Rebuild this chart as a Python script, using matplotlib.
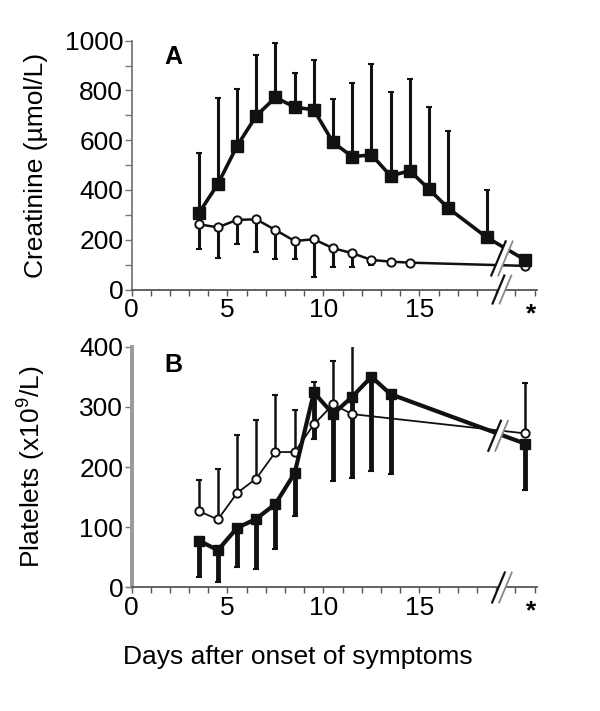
import matplotlib
matplotlib.use('Agg')
import matplotlib.pyplot as plt
from matplotlib.patches import Polygon
import numpy as np

plt.rcParams['font.family'] = ['Liberation Sans', 'DejaVu Sans']
plt.rcParams['mathtext.fontset'] = 'custom'
plt.rcParams['mathtext.rm'] = 'Liberation Sans'
plt.rcParams['mathtext.it'] = 'Liberation Sans'

# ---- panel A: creatinine ----
days_a_hus = [3.5, 4.5, 5.5, 6.5, 7.5, 8.5, 9.5, 10.5, 11.5, 12.5, 13.5, 14.5, 15.5, 16.5, 18.5, 20.5]
creat_hus = [306, 424, 577, 698, 772, 733, 722, 591, 534, 541, 457, 477, 403, 327, 210, 119]
creat_hus_top = [550, 769, 806, 944, 991, 872, 923, 767, 830, 906, 795, 846, 733, 635, 400, 119]

days_a_ctrl = [3.5, 4.5, 5.5, 6.5, 7.5, 8.5, 9.5, 10.5, 11.5, 12.5, 13.5, 14.5, 20.5]
creat_ctrl = [262, 250, 280, 282, 239, 195, 202, 166, 146, 119, 112, 108, 95]
creat_ctrl_low = [162, 128, 182, 152, 121, 121, 52, 92, 89, 98, 98, 100, 95]

# ---- panel B: platelets ----
days_b_hus = [3.5, 4.5, 5.5, 6.5, 7.5, 8.5, 9.5, 10.5, 11.5, 12.5, 13.5, 20.5]
plt_hus = [78, 62, 99, 114, 139, 190, 324, 288, 317, 350, 321, 239]
plt_hus_low = [18, 9, 34, 30, 64, 119, 247, 177, 182, 193, 188, 162]

days_b_ctrl = [3.5, 4.5, 5.5, 6.5, 7.5, 8.5, 9.5, 10.5, 11.5, 20.5]
plt_ctrl = [127, 113, 157, 181, 225, 225, 271, 304, 288, 256]
plt_ctrl_top = [178, 197, 254, 278, 320, 294, 342, 377, 401, 340]

XMAX = 21.1
BREAK_X = 19.3
FS = 19


def style_axis(ax, ymax, major, minor, lw_left, col_left):
    ax.set_xlim(0, XMAX)
    ax.set_ylim(0, ymax)
    ax.spines['top'].set_visible(False)
    ax.spines['right'].set_visible(False)
    ax.spines['left'].set_color(col_left)
    ax.spines['left'].set_linewidth(lw_left)
    ax.spines['bottom'].set_color('#555555')
    ax.spines['bottom'].set_linewidth(1.3)
    ax.set_xticks(np.arange(0, 22, 1))
    ax.set_xticklabels(['0' if d == 0 else str(d) if d in (5, 10, 15) else ''
                        for d in range(22)])
    ax.set_yticks(np.arange(0, ymax + 1, major))
    ax.set_yticks(np.arange(0, ymax + 1, minor), minor=True)
    ax.tick_params(axis='x', direction='out', length=4, width=1, color='#555555',
                   labelsize=FS, pad=2)
    ax.tick_params(axis='y', which='both', direction='out', length=5, width=1,
                   color='#777777', labelsize=FS, pad=1)
    ax.text(20.8, -0.1 * ymax, '*', ha='center', va='center', fontsize=FS,
            fontweight='bold')


def break_mark(ax, x, y, half_h):
    # parallel slanted strokes with a white gap, in pixel units
    fig.canvas.draw()
    cx, cy = ax.transData.transform((x, y))
    sx = 0.42 * half_h
    gap = 7
    inv = ax.transData.inverted()
    l1 = [(cx - gap / 2 - sx, cy - half_h), (cx - gap / 2 + sx, cy + half_h)]
    l2 = [(cx + gap / 2 - sx, cy - half_h), (cx + gap / 2 + sx, cy + half_h)]
    poly = inv.transform(l1 + l2[::-1])
    ax.add_patch(Polygon(poly, closed=True, facecolor='white', edgecolor='none',
                         zorder=6, clip_on=False))
    p1 = inv.transform(l1)
    p2 = inv.transform(l2)
    ax.plot(p1[:, 0], p1[:, 1], color='#111111', lw=1.6, zorder=7, clip_on=False)
    ax.plot(p2[:, 0], p2[:, 1], color='#888888', lw=1.3, zorder=7, clip_on=False)


fig = plt.figure(figsize=(6, 7.11), dpi=100)
axA = fig.add_axes([0.2192, 0.5928, 0.675, 0.350])
axB = fig.add_axes([0.2192, 0.1737, 0.675, 0.3387])

# panel A
style_axis(axA, 1000, 200, 100, 1.3, '#777777')
up = np.array(creat_hus_top) - np.array(creat_hus)
axA.errorbar(days_a_hus, creat_hus, yerr=[np.zeros(len(up)), up], fmt='none',
             ecolor='#111111', elinewidth=2.2, capsize=2, capthick=1.5, zorder=2)
low = np.array(creat_ctrl) - np.array(creat_ctrl_low)
axA.errorbar(days_a_ctrl, creat_ctrl, yerr=[low, np.zeros(len(low))], fmt='none',
             ecolor='#111111', elinewidth=2.2, capsize=2, capthick=1.5, zorder=2)
axA.plot(days_a_ctrl, creat_ctrl, '-o', color='#111111', lw=1.8, ms=6,
         mfc='white', mec='#111111', mew=1.4, zorder=4)
axA.plot(days_a_hus, creat_hus, '-s', color='#111111', lw=2.6, ms=8,
         mfc='#111111', mec='#111111', zorder=5)
axA.text(2.2, 935, 'A', fontsize=18, fontweight='bold', ha='center', va='center')
axA.set_ylabel('Creatinine (µmol/L)', fontsize=FS)
axA.yaxis.set_label_coords(-0.205, 0.5)

# panel B
style_axis(axB, 400, 100, 100, 2.8, '#999999')
low = np.array(plt_hus) - np.array(plt_hus_low)
axB.errorbar(days_b_hus, plt_hus, yerr=[low, np.zeros(len(low))], fmt='none',
             ecolor='#111111', elinewidth=3.5, capsize=2, capthick=1.5, zorder=2)
up = np.array(plt_ctrl_top) - np.array(plt_ctrl)
axB.errorbar(days_b_ctrl, plt_ctrl, yerr=[np.zeros(len(up)), up], fmt='none',
             ecolor='#111111', elinewidth=1.8, capsize=2, capthick=1.5, zorder=2)
axB.plot(days_b_ctrl, plt_ctrl, '-o', color='#111111', lw=1.3, ms=6,
         mfc='white', mec='#111111', mew=1.4, zorder=4)
axB.plot(days_b_hus, plt_hus, '-s', color='#111111', lw=3.0, ms=7,
         mfc='#111111', mec='#111111', zorder=5)
axB.text(2.2, 370, 'B', fontsize=18, fontweight='bold', ha='center', va='center')
axB.set_ylabel('Platelets (x10$^{9}$/L)', fontsize=FS)
axB.yaxis.set_label_coords(-0.205, 0.5)
axB.set_xlabel('Days after onset of symptoms', fontsize=FS)
axB.xaxis.set_label_coords(0.41, -0.24)

# axis breaks
break_mark(axA, BREAK_X, 0, 14)
break_mark(axA, BREAK_X, 125, 17)
break_mark(axB, BREAK_X, 0, 15)
break_mark(axB, BREAK_X - 0.2, 252, 15)

fig.savefig('out.png', dpi=100)
